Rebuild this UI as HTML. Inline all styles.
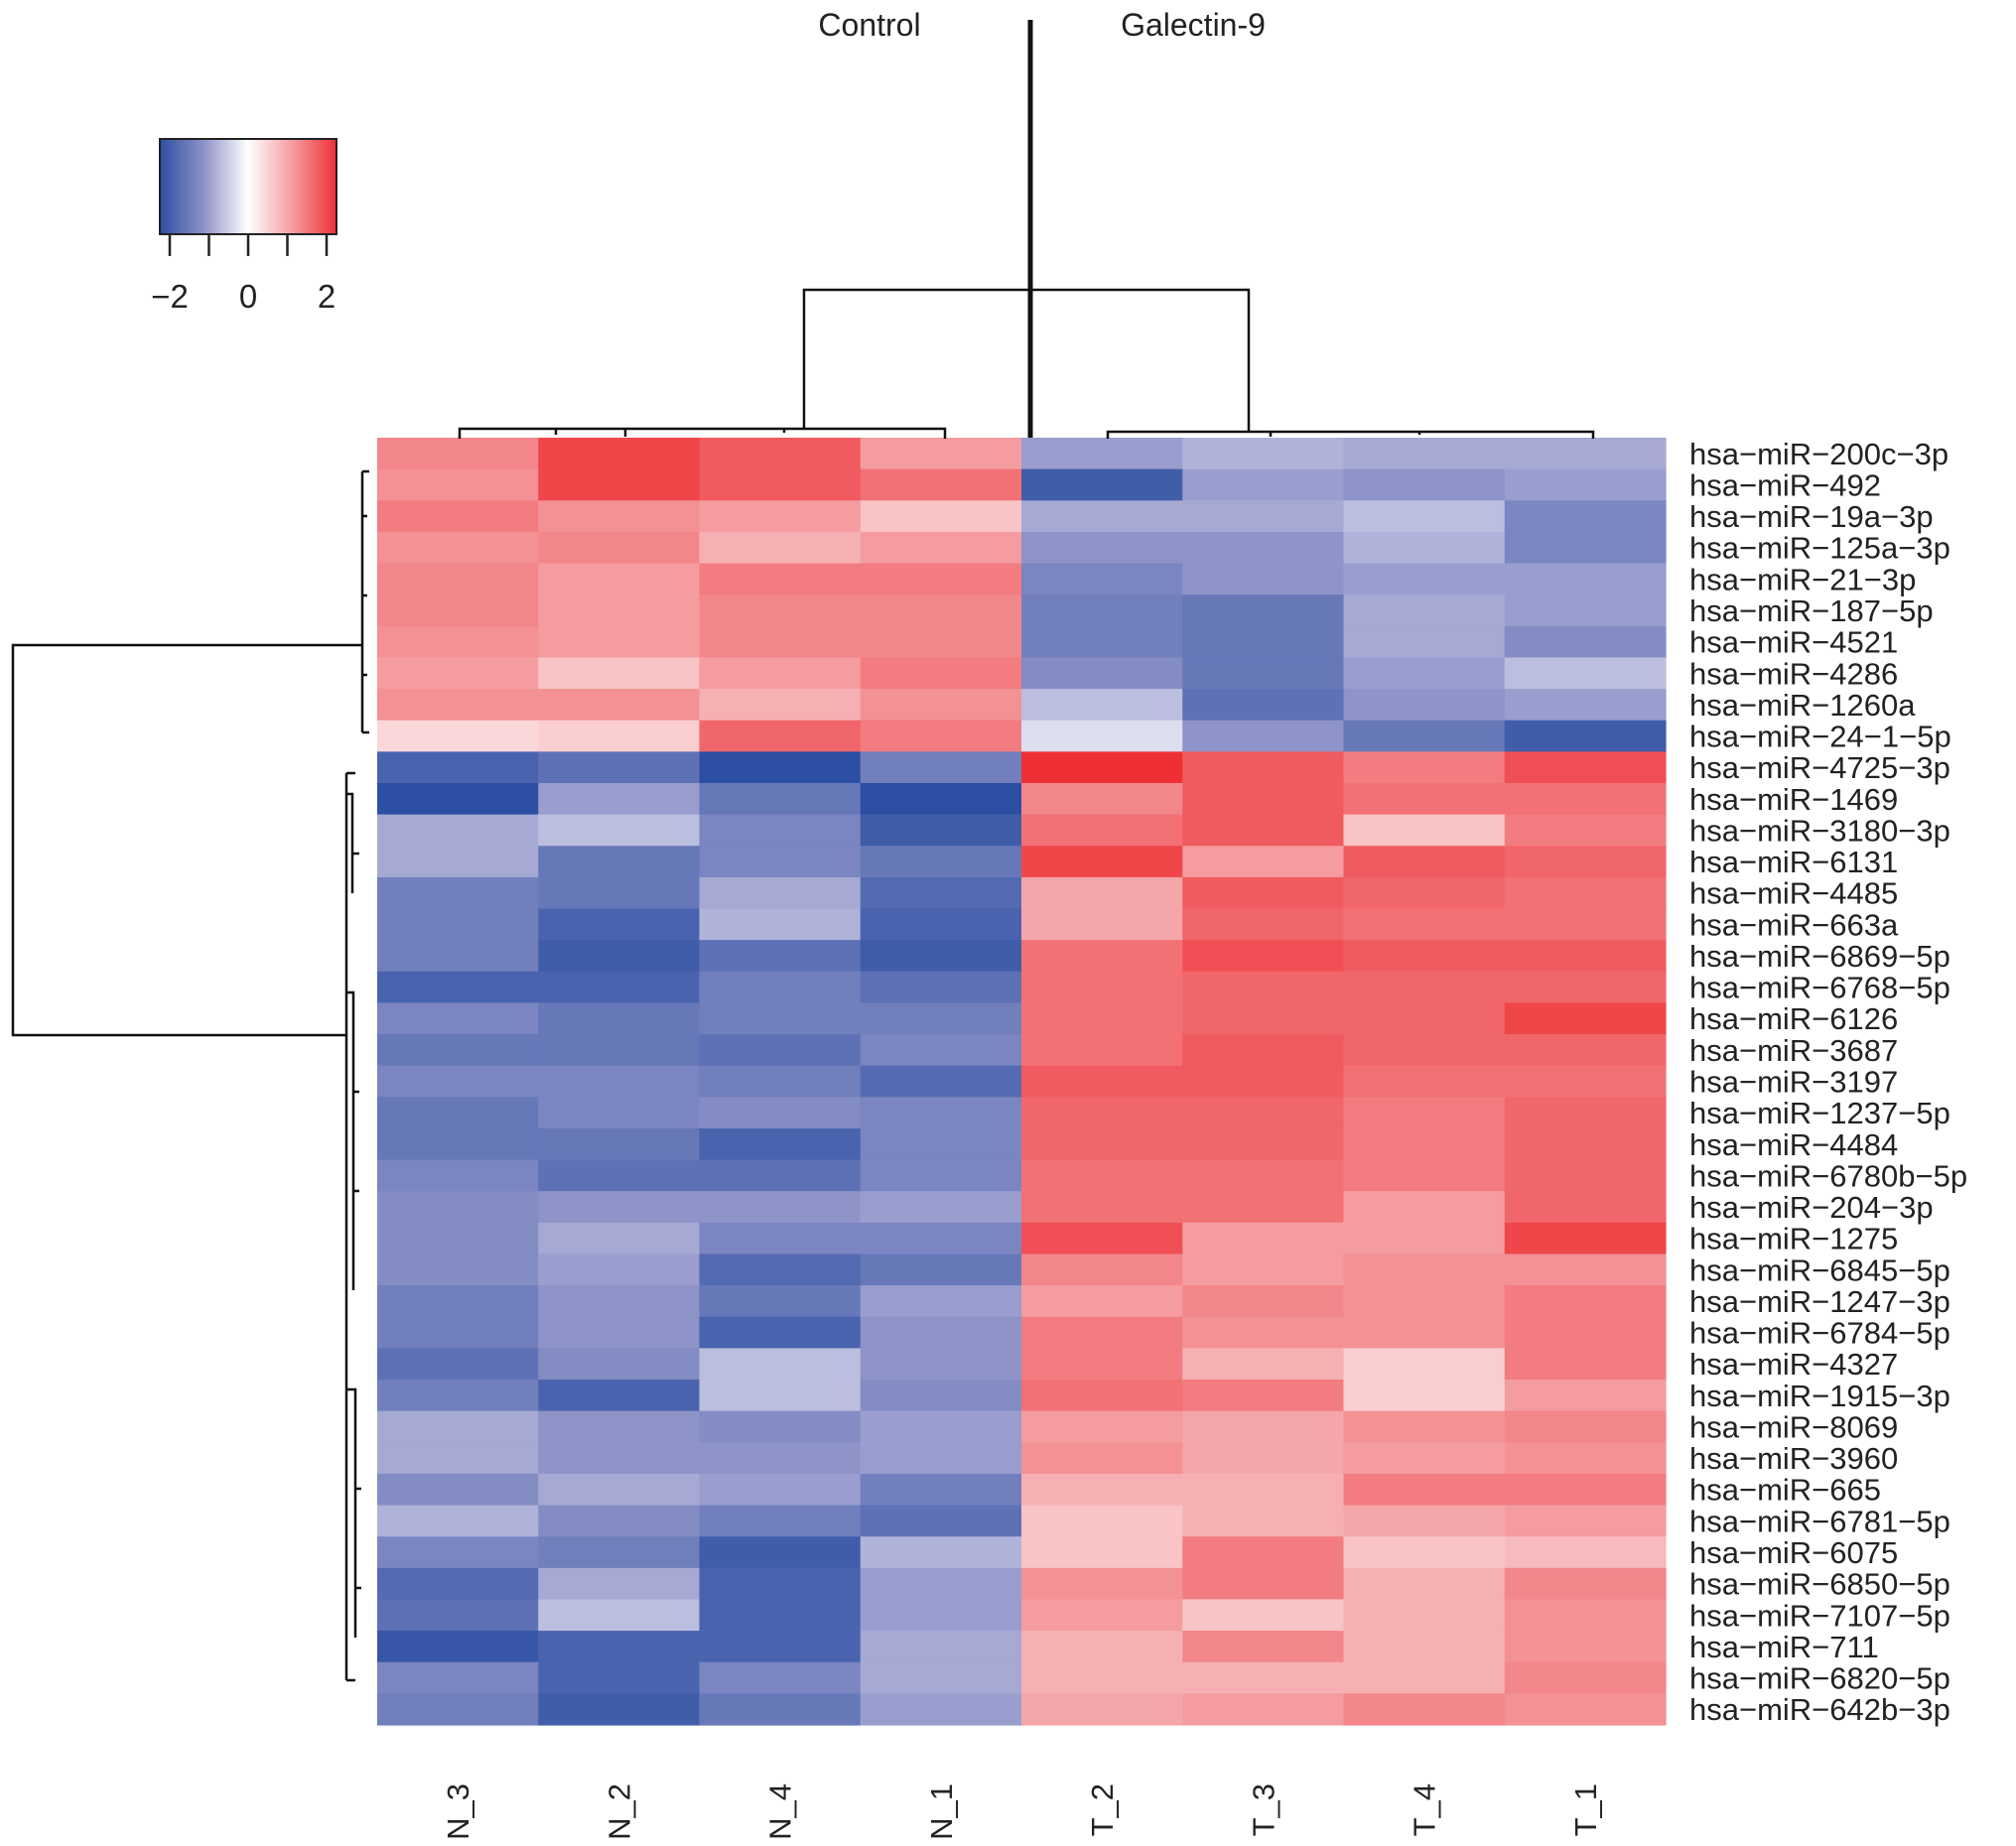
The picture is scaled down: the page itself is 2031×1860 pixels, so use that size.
<!DOCTYPE html>
<html><head><meta charset="utf-8"><style>
html,body{margin:0;padding:0;background:#fff;}
svg{display:block;font-family:"Liberation Sans",sans-serif;}
</style></head><body>
<svg id="chart" width="2031" height="1860" viewBox="0 0 2031 1860" xmlns="http://www.w3.org/2000/svg">
<defs>
<linearGradient id="lg" x1="0" x2="1" y1="0" y2="0">
<stop offset="0" stop-color="#2D4FA3"/><stop offset="0.25" stop-color="#8E93C8"/><stop offset="0.5" stop-color="#FFFFFF"/><stop offset="0.75" stop-color="#F49CA0"/><stop offset="1" stop-color="#EE3035"/>
</linearGradient>
</defs>
<g id="legend">
<rect x="161" y="140" width="178" height="96" fill="url(#lg)" stroke="#222" stroke-width="2"/>
</g>
<g id="cells"></g>
<g id="rowlabels"></g>
<g id="collabels"></g>
<g stroke="#111" stroke-width="2.5" fill="none">
<line x1="1038" y1="20" x2="1038" y2="441" stroke-width="5"/>
<path d="M810 432 V292 H1258 V435"/>
<path d="M463 442 V432 H952 V442 M630 432 V440 M790 432 V436 M560 432 V438"/>
<path d="M1116 442 V435 H1605 V442 M1280 435 V440 M1430 435 V438"/>
</g>
<g stroke="#111" stroke-width="2.5" fill="none">
<path d="M365 650 H13 V1043 H349"/>
<path d="M365 475 V738 M365 475 H372 M365 738 H372 M365 520 H370 M365 600 H370 M365 680 H370"/>
<path d="M349 779 V1693 M349 779 H358 M349 1693 H358 M349 800 H355 V900 M355 860 H362 M349 1000 H356 V1300 M356 1100 H362 M356 1200 H362 M349 1400 H358 V1650 M358 1500 H364 M358 1600 H364"/>
</g>
<text x="876" y="36" font-size="32" text-anchor="middle" fill="#222">Control</text>
<text x="1202" y="36" font-size="32" text-anchor="middle" fill="#222">Galectin-9</text>
</svg>
<script>
const columns = ["N_3","N_2","N_4","N_1","T_2","T_3","T_4","T_1"];
const rows = ["hsa-miR-200c-3p","hsa-miR-492","hsa-miR-19a-3p","hsa-miR-125a-3p","hsa-miR-21-3p","hsa-miR-187-5p","hsa-miR-4521","hsa-miR-4286","hsa-miR-1260a","hsa-miR-24-1-5p","hsa-miR-4725-3p","hsa-miR-1469","hsa-miR-3180-3p","hsa-miR-6131","hsa-miR-4485","hsa-miR-663a","hsa-miR-6869-5p","hsa-miR-6768-5p","hsa-miR-6126","hsa-miR-3687","hsa-miR-3197","hsa-miR-1237-5p","hsa-miR-4484","hsa-miR-6780b-5p","hsa-miR-204-3p","hsa-miR-1275","hsa-miR-6845-5p","hsa-miR-1247-3p","hsa-miR-6784-5p","hsa-miR-4327","hsa-miR-1915-3p","hsa-miR-8069","hsa-miR-3960","hsa-miR-665","hsa-miR-6781-5p","hsa-miR-6075","hsa-miR-6850-5p","hsa-miR-7107-5p","hsa-miR-711","hsa-miR-6820-5p","hsa-miR-642b-3p"];
const values = [
[1.2,1.8,1.6,1.0,-0.9,-0.7,-0.8,-0.8],
[1.1,1.8,1.6,1.4,-1.8,-0.9,-1.0,-0.9],
[1.3,1.1,1.0,0.6,-0.8,-0.8,-0.6,-1.2],
[1.1,1.2,0.8,1.0,-1.0,-1.0,-0.7,-1.2],
[1.2,1.0,1.3,1.3,-1.2,-1.0,-0.9,-0.9],
[1.2,1.0,1.2,1.2,-1.3,-1.4,-0.8,-0.9],
[1.1,1.0,1.2,1.2,-1.3,-1.4,-0.8,-1.1],
[1.0,0.6,1.0,1.3,-1.1,-1.4,-0.9,-0.6],
[1.1,1.1,0.8,1.1,-0.6,-1.5,-1.0,-0.9],
[0.4,0.5,1.5,1.3,-0.3,-1.0,-1.4,-1.8],
[-1.7,-1.5,-2.0,-1.3,2.0,1.6,1.3,1.7],
[-2.0,-0.9,-1.4,-2.0,1.2,1.6,1.4,1.4],
[-0.8,-0.6,-1.2,-1.8,1.4,1.6,0.6,1.3],
[-0.8,-1.4,-1.2,-1.4,1.8,1.0,1.6,1.5],
[-1.3,-1.4,-0.8,-1.6,0.9,1.6,1.5,1.4],
[-1.3,-1.7,-0.7,-1.7,0.9,1.5,1.4,1.4],
[-1.3,-1.8,-1.5,-1.8,1.4,1.7,1.6,1.6],
[-1.7,-1.7,-1.3,-1.5,1.4,1.5,1.5,1.5],
[-1.2,-1.4,-1.3,-1.3,1.4,1.5,1.5,1.8],
[-1.4,-1.4,-1.5,-1.2,1.4,1.6,1.5,1.5],
[-1.2,-1.2,-1.3,-1.6,1.6,1.6,1.4,1.4],
[-1.4,-1.2,-1.1,-1.2,1.5,1.5,1.3,1.5],
[-1.4,-1.4,-1.7,-1.2,1.5,1.5,1.3,1.5],
[-1.2,-1.5,-1.5,-1.2,1.4,1.4,1.3,1.5],
[-1.1,-1.0,-1.0,-0.9,1.4,1.4,1.0,1.5],
[-1.1,-0.8,-1.2,-1.2,1.7,1.0,1.0,1.8],
[-1.1,-0.9,-1.6,-1.4,1.2,1.0,1.1,1.1],
[-1.3,-1.0,-1.4,-0.9,1.0,1.2,1.1,1.3],
[-1.3,-1.0,-1.7,-1.0,1.3,1.1,1.1,1.3],
[-1.5,-1.1,-0.6,-1.0,1.3,0.8,0.5,1.3],
[-1.3,-1.7,-0.6,-1.1,1.4,1.3,0.5,1.0],
[-0.8,-1.0,-1.1,-0.9,1.0,0.9,1.1,1.2],
[-0.8,-1.0,-1.0,-0.9,1.1,0.9,1.0,1.1],
[-1.1,-0.8,-0.9,-1.3,0.8,0.8,1.3,1.3],
[-0.7,-1.1,-1.3,-1.5,0.6,0.8,0.9,1.0],
[-1.2,-1.3,-1.8,-0.7,0.6,1.3,0.6,0.7],
[-1.6,-0.8,-1.7,-0.9,1.1,1.3,0.8,1.2],
[-1.5,-0.6,-1.7,-0.9,1.0,0.6,0.8,1.1],
[-1.9,-1.7,-1.7,-0.8,0.8,1.2,0.8,1.1],
[-1.2,-1.7,-1.2,-0.8,0.8,0.8,0.8,1.2],
[-1.3,-1.8,-1.4,-0.9,0.9,1.0,1.2,1.1]
];
const legendTicks = [-2,-1,0,1,2];
const legendTickLabels = ["\u22122","0","2"];
const legendLabelValues = [-2,0,2];

const NS="http://www.w3.org/2000/svg";
const X0=380,X1=1678,Y0=441,Y1=1738;
const cw=(X1-X0)/columns.length, rh=(Y1-Y0)/rows.length;
const xPos=i=>X0+i*cw, yPos=j=>Y0+j*rh;
const legX=v=>171+(v+2)/4*158;
const stops=[[-2,[45,79,163]],[-1,[142,147,200]],[0,[255,255,255]],[1,[244,156,160]],[2,[238,48,53]]];
function color(v){v=Math.max(-2,Math.min(2,v));for(let k=0;k<stops.length-1;k++){const a=stops[k],b=stops[k+1];if(v<=b[0]){const t=(v-a[0])/(b[0]-a[0]);const c=a[1].map((x,i)=>Math.round(x+(b[1][i]-x)*t));return `rgb(${c.join(",")})`;}}return "rgb(238,48,53)";}
function mk(tag,attrs,parent){const e=document.createElementNS(NS,tag);for(const k in attrs)e.setAttribute(k,attrs[k]);parent.appendChild(e);return e;}
const cells=document.getElementById("cells");
values.forEach((row,j)=>row.forEach((v,i)=>{
 const r=mk("rect",{x:xPos(i),y:yPos(j),width:cw+0.6,height:rh+0.6,fill:color(v)},cells);
 
 
}));
const rl=document.getElementById("rowlabels");
rows.forEach((name,j)=>{
 const t=mk("text",{x:1702,y:yPos(j)+rh/2+11,"font-size":31,fill:"#222"},rl);
 t.textContent=name.replace(/-/g,"\u2212");
 
 
});
const cl=document.getElementById("collabels");
columns.forEach((name,i)=>{
 const cx=xPos(i)+cw/2+11;
 const t=mk("text",{x:cx,y:1797,"font-size":31,fill:"#222","text-anchor":"end",transform:`rotate(-90 ${cx} 1797)`},cl);
 t.textContent=name;
 
 
});
const lg=document.getElementById("legend");
legendTicks.forEach(v=>{
 const l=mk("line",{x1:legX(v),x2:legX(v),y1:236,y2:258,stroke:"#222","stroke-width":2.5},lg);
 
 
});
legendLabelValues.forEach((v,k)=>{
 const t=mk("text",{x:legX(v),y:310,"font-size":33,fill:"#222","text-anchor":"middle"},lg);
 t.textContent=legendTickLabels[k];
 
 
});
</script>
</body></html>
